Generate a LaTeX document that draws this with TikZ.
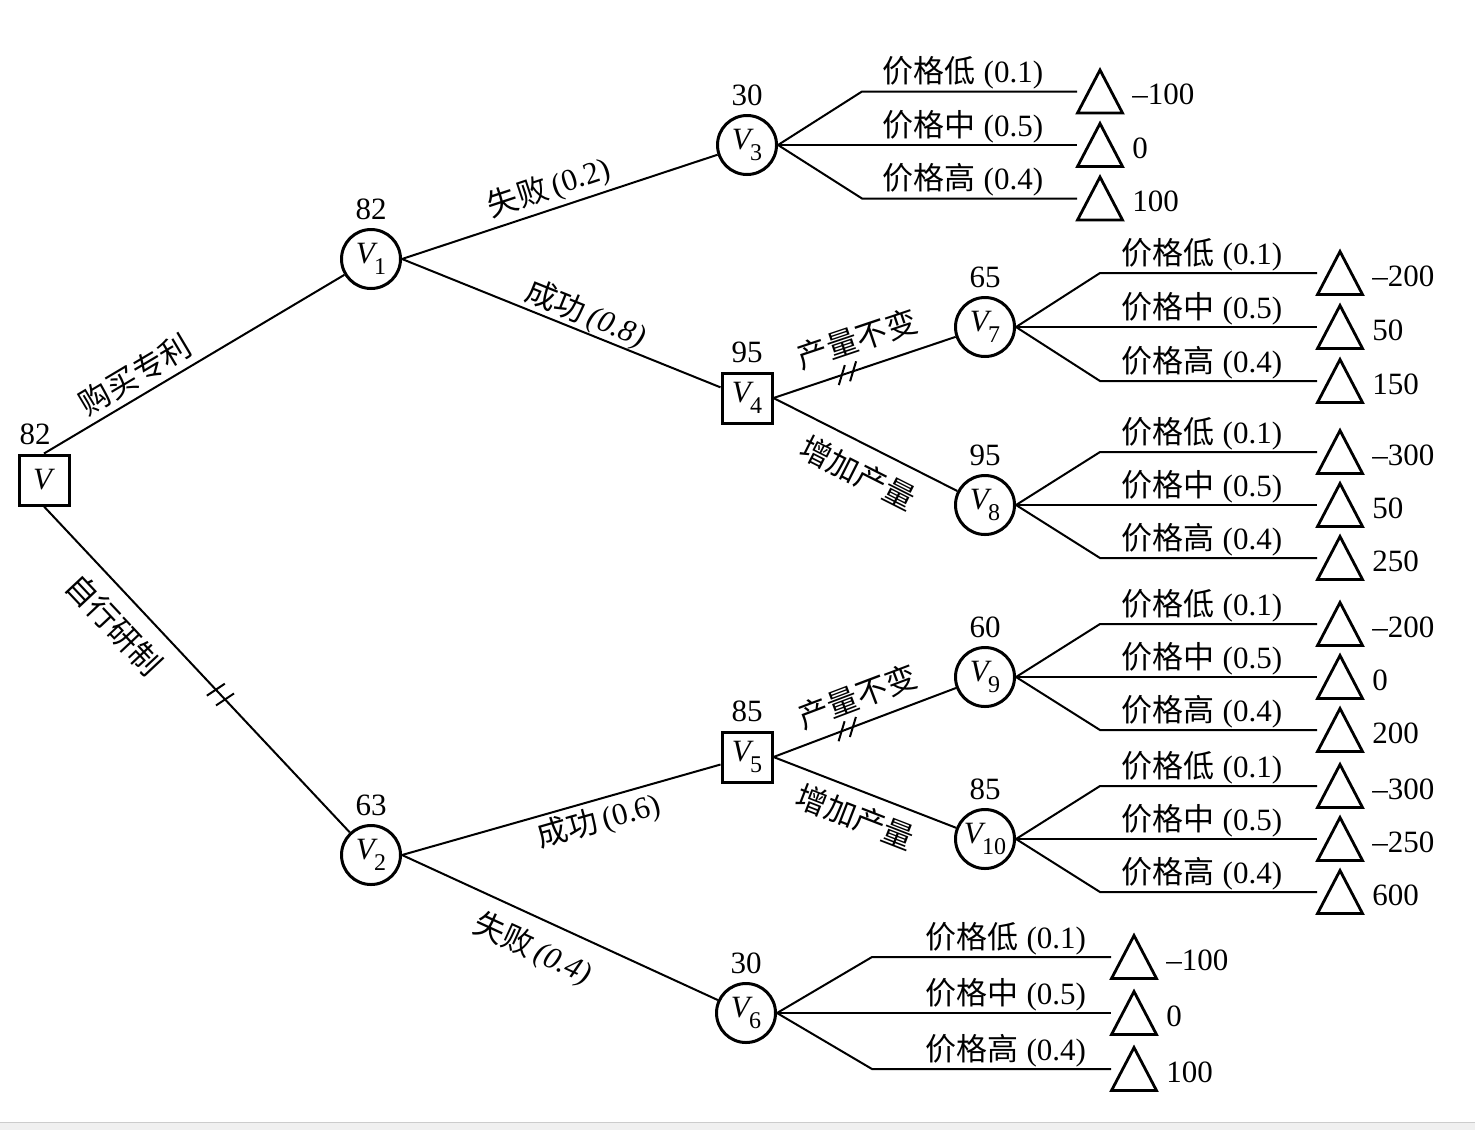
\documentclass[tikz,border=0pt]{standalone}
\usepackage{fontspec}
\setmainfont{Liberation Serif}
\newfontfamily\cjk{Noto Sans CJK SC}
\usetikzlibrary{calc}
\newcommand\zh[1]{{\cjk #1}}
\newcommand\vv[1]{\textit{V}\kern-0.12em\raisebox{-0.36em}{\fontsize{12pt}{12pt}\selectfont #1}}
\tikzset{
  txt/.style={font=\fontsize{15.5pt}{18pt}\selectfont, inner sep=0pt},
  decbox/.style={draw, rectangle, line width=1.5pt, minimum size=25pt, inner sep=0pt, font=\fontsize{15.5pt}{18pt}\selectfont},
  chance/.style={draw, circle, line width=1.5pt, minimum size=29.5pt, inner sep=0pt, font=\fontsize{15.5pt}{18pt}\selectfont},
  edge/.style={line width=1pt},
  val/.style={label={[txt]above:#1}},
  slbl/.style={txt, sloped},
  plbl/.style={txt, above=0.5pt},
  vlbl/.style={txt, anchor=west},
  leaf/.pic={\draw[line width=1.4pt, line join=miter] (-22.5,21.5) -- (22.5,21.5) -- (0,-21.5) -- cycle;}
}
\begin{document}
\begin{tikzpicture}[x=0.5pt, y=-0.5pt, label distance=4pt]
\useasboundingbox (0,0) rectangle (1475,1130);
\fill[gray!12] (0,1122) rectangle (1475,1130);
\draw[gray!40, line width=0.5pt] (0,1122.5) -- (1475,1122.5);

% nodes
\node[decbox, label={[txt, xshift=-4.5pt]above:82}] (V) at (44,480) {\textit{V}};
\node[chance, val=82] (V1) at (371,259) {\vv{1}};
\node[chance, val=63] (V2) at (371,855) {\vv{2}};
\node[chance, val=30] (V3) at (747,145) {\vv{3}};
\node[decbox, val=95] (V4) at (747,398) {\vv{4}};
\node[decbox, val=85] (V5) at (747,757) {\vv{5}};
\node[chance, val=30] (V6) at (746,1013) {\vv{6}};
\node[chance, val=65] (V7) at (985,327) {\vv{7}};
\node[chance, val=95] (V8) at (985,505) {\vv{8}};
\node[chance, val=60] (V9) at (985,677) {\vv{9}};
\node[chance, val=85] (V10) at (985,839) {\vv{10}};

% main connectors
\draw[edge] (V.north) -- node[slbl, above=3pt, pos=0.34] (l1) {\zh{购买专利}} (V1);
\draw[edge] (V.south) -- node[slbl, below=7pt, pos=0.30] (l2) {\zh{自行研制}} (V2);
\draw[edge] (V1.east) -- node[slbl, above=2pt, pos=0.486] (l3) {\zh{失败}\,(0.2)} (V3);
\draw[edge] (V1.east) -- node[slbl, above=0pt, pos=0.556] (l4) {\zh{成功}\,\textit{(0.8)}} (V4);
\draw[edge] (V2.east) -- node[slbl, below=2pt, pos=0.60] (l5) {\zh{成功}\,(0.6)} (V5);
\draw[edge] (V2.east) -- node[slbl, below=7pt, pos=0.455] (l6) {\zh{失败}\,\textit{(0.4)}} (V6);
\draw[edge] (V4.east) -- node[slbl, above=7pt, pos=0.51] (l7) {\zh{产量不变}} (V7);
\draw[edge] (V4.east) -- node[slbl, below=7pt, pos=0.53] (l8) {\zh{增加产量}} (V8);
\draw[edge] (V5.east) -- node[slbl, above=6pt, pos=0.51] (l9) {\zh{产量不变}} (V9);
\draw[edge] (V5.east) -- node[slbl, below=5.5pt, pos=0.50] (l10) {\zh{增加产量}} (V10);

% pruning ticks
\path (V.south) -- (V2) coordinate[pos=0.562] (tA1) coordinate[pos=0.592] (tA2);
\draw[edge] (tA1) +(-9,6) -- +(9,-6) (tA2) +(-9,6) -- +(9,-6);
\path (V4.east) -- (V7) coordinate[pos=0.375] (tB1) coordinate[pos=0.437] (tB2);
\draw[edge] (tB1) +(-3,10) -- +(3,-10) (tB2) +(-3,10) -- +(3,-10);
\path (V5.east) -- (V9) coordinate[pos=0.373] (tC1) coordinate[pos=0.435] (tC2);
\draw[edge] (tC1) +(-3,10) -- +(3,-10) (tC2) +(-3,10) -- +(3,-10);

% price branches
\foreach \n/\kx/\ex/\y/\d/\p/\va/\vb/\vc in {
  V3/862/1077/145/53.5/0.47/–100/0/100,
  V7/1100/1317/327/54/0.47/–200/50/150,
  V8/1100/1317/505/53/0.47/–300/50/250,
  V9/1100/1317/677/53/0.47/–200/0/200,
  V10/1100/1317/839/53/0.47/–300/–250/600,
  V6/872/1111/1013/56/0.56/–100/0/100}{
  \coordinate (\n-k1) at ({\kx},{\y-\d});
  \coordinate (\n-k2) at ({\kx},{\y});
  \coordinate (\n-k3) at ({\kx},{\y+\d});
  \coordinate (\n-e1) at ({\ex},{\y-\d});
  \coordinate (\n-e2) at ({\ex},{\y});
  \coordinate (\n-e3) at ({\ex},{\y+\d});
  \draw[edge] (\n.east) -- (\n-k1) -- node[plbl, pos=\p] (\n-l1) {\zh{价格低} (0.1)} (\n-e1);
  \draw[edge] (\n.east) -- (\n-k2) -- node[plbl, pos=\p] (\n-l2) {\zh{价格中} (0.5)} (\n-e2);
  \draw[edge] (\n.east) -- (\n-k3) -- node[plbl, pos=\p] (\n-l3) {\zh{价格高} (0.4)} (\n-e3);
  \pic at ({\ex+23},{\y-\d}) {leaf};
  \pic at ({\ex+23},{\y}) {leaf};
  \pic at ({\ex+23},{\y+\d}) {leaf};
  \node[vlbl] (\n-v1) at ({\ex+55},{\y-\d+3}) {\va};
  \node[vlbl] (\n-v2) at ({\ex+55},{\y+3}) {\vb};
  \node[vlbl] (\n-v3) at ({\ex+55},{\y+\d+3}) {\vc};
}
\end{tikzpicture}
\end{document}
